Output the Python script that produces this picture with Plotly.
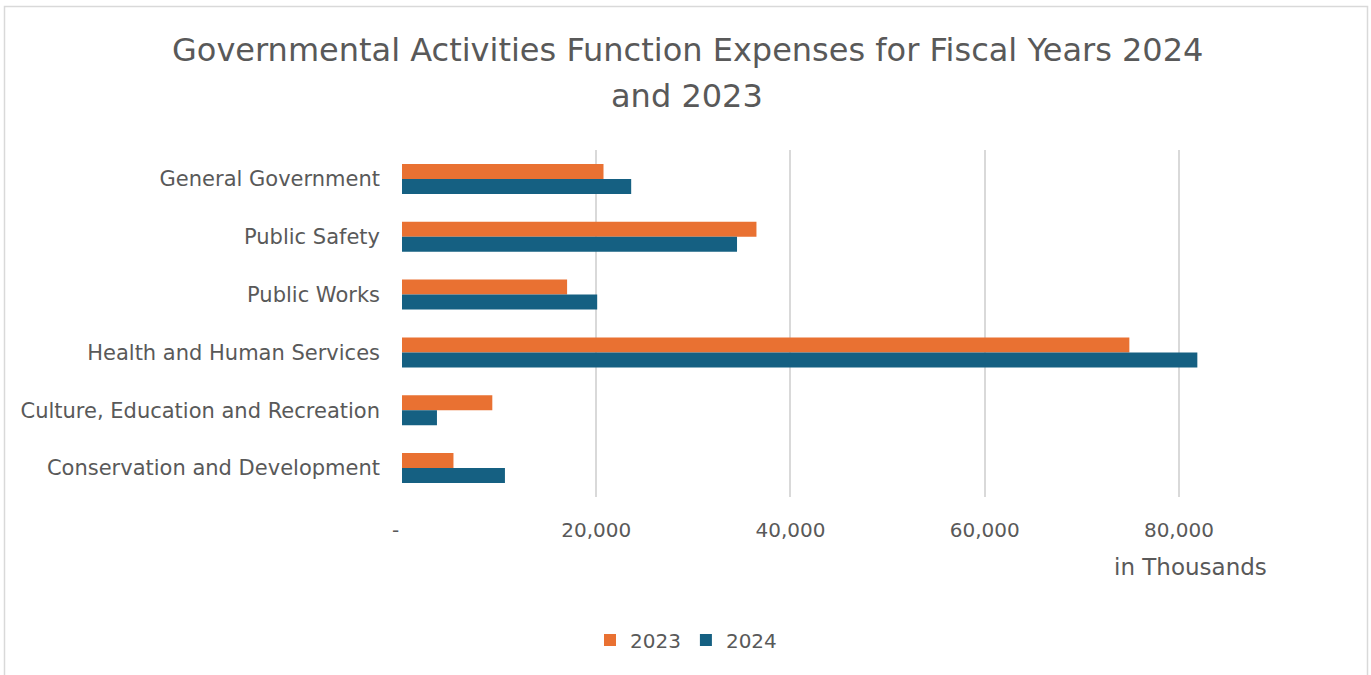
import plotly.graph_objects as go

# Function expense categories, top to bottom
categories = [
    "General Government",
    "Public Safety",
    "Public Works",
    "Health and Human Services",
    "Culture, Education and Recreation",
    "Conservation and Development",
]

# Expenses in thousands of dollars
expenses_2023 = [20750, 36500, 17000, 74900, 9300, 5300]
expenses_2024 = [23600, 34500, 20100, 81900, 3600, 10600]

tick_values = [0, 20000, 40000, 60000, 80000]
tick_labels = ["-  ", "20,000", "40,000", "60,000", "80,000"]

title_lines = [
    "Governmental Activities Function Expenses for Fiscal Years 2024",
    "and 2023",
]

ORANGE = "#E97132"
BLUE = "#156082"
TEXT = "#595959"
GRID = "#D9D9D9"
FONT = "'DejaVu Sans', sans-serif"

W, H = 1371, 675
L, R, T, B = 402, 95, 150, 178
pw, ph = W - L - R, H - T - B


def px_x(x):
    return (x - L) / pw


def px_y(y):
    return (H - B - y) / ph


fig = go.Figure()
fig.add_trace(go.Bar(
    name="2023", y=categories, x=expenses_2023, orientation="h",
    marker=dict(color=ORANGE, line=dict(width=0)),
))
fig.add_trace(go.Bar(
    name="2024", y=categories, x=expenses_2024, orientation="h",
    marker=dict(color=BLUE, line=dict(width=0)),
))

fig.update_layout(
    width=W, height=H,
    margin=dict(l=L, r=R, t=T, b=B),
    paper_bgcolor="white", plot_bgcolor="white",
    barmode="group", bargap=0.48, bargroupgap=0,
    font=dict(family=FONT, color=TEXT, size=20),
    showlegend=True,
    legend=dict(
        orientation="h", x=px_x(686), xanchor="center",
        y=px_y(640), yanchor="middle",
        font=dict(size=20, color=TEXT), traceorder="normal",
        itemwidth=30,
    ),
    xaxis=dict(
        range=[0, 90000], tickvals=tick_values, ticktext=tick_labels,
        showgrid=True, gridcolor=GRID, gridwidth=2,
        zeroline=False, showline=False, ticks="",
        tickfont=dict(size=20, color=TEXT), ticklabelstandoff=19,
    ),
    yaxis=dict(
        autorange="reversed", showgrid=False, zeroline=False,
        showline=False, ticks="", tickfont=dict(size=21, color=TEXT),
        ticklabelstandoff=21,
    ),
)

# Chart title, one annotation per line
for line, y in zip(title_lines, [50, 96]):
    fig.add_annotation(
        text=line, xref="paper", yref="paper", x=px_x(687), y=px_y(y),
        xanchor="center", yanchor="middle", showarrow=False,
        font=dict(size=32, color=TEXT, family=FONT),
    )

# Value axis title
fig.add_annotation(
    text="in Thousands", xref="paper", yref="paper",
    x=px_x(1269), y=px_y(567), xanchor="right", yanchor="middle",
    showarrow=False, font=dict(size=23, color=TEXT, family=FONT),
)

# Light chart frame
fig.add_shape(
    type="path", xref="paper", yref="paper",
    path=f"M {px_x(4.5)} {px_y(700)} L {px_x(4.5)} {px_y(6.5)} "
         f"L {px_x(1367.5)} {px_y(6.5)} L {px_x(1367.5)} {px_y(700)}",
    line=dict(color="#D9D9D9", width=1.5), layer="below",
)

fig.write_html("out.html")
